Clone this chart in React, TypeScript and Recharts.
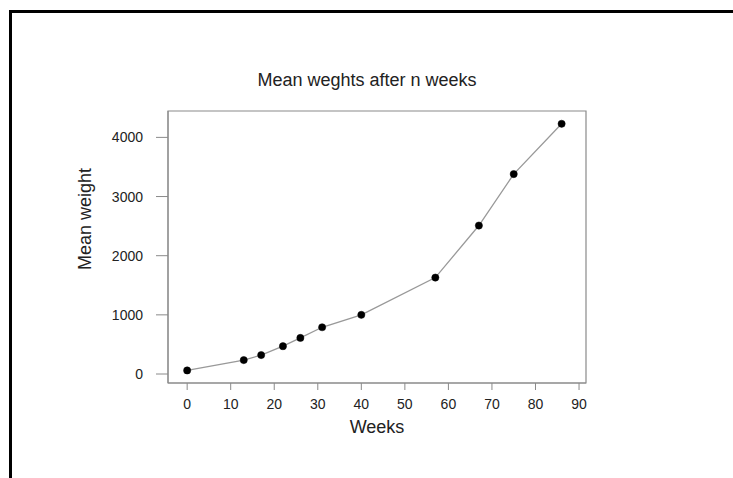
import React from 'react';
import { LineChart, Line, XAxis, YAxis, ReferenceArea } from 'recharts';

const weeks = [0, 13, 17, 22, 26, 31, 40, 57, 67, 75, 86];
const meanWeights = [60, 235, 320, 470, 610, 790, 1000, 1630, 2510, 3380, 4230];
const xTicks = [0, 10, 20, 30, 40, 50, 60, 70, 80, 90];
const yTicks = [0, 1000, 2000, 3000, 4000];

const data = weeks.map((w, i) => ({ week: w, weight: meanWeights[i] }));

const FONT = '"Liberation Sans", Arial, sans-serif';
const TEXT = '#222';
const AXIS = '#8a8a8a';

export default function App() {
  return (
    <div style={{ position: 'absolute', left: 0, top: 0, width: 733, height: 478, background: '#fff', overflow: 'hidden', fontFamily: FONT }}>
      <div style={{ position: 'absolute', left: 9, top: 10, width: 740, height: 500, borderTop: '3px solid #000', borderLeft: '3px solid #000', boxSizing: 'border-box' }} />
      <div style={{ position: 'absolute', left: 0, top: 0 }}>
        <LineChart width={733} height={478} data={data} margin={{ top: 111, right: 147, bottom: 65, left: 108 }}>
          <XAxis
            dataKey="week"
            type="number"
            domain={[-4.4, 91.6]}
            ticks={xTicks}
            interval={0}
            allowDataOverflow
            height={30}
            tickSize={7}
            tickMargin={9}
            axisLine={{ stroke: AXIS }}
            tickLine={{ stroke: AXIS }}
            tick={{ fill: TEXT, fontSize: 14, fontFamily: FONT }}
          />
          <YAxis
            dataKey="weight"
            type="number"
            domain={[-152, 4446]}
            ticks={yTicks}
            interval={0}
            allowDataOverflow
            width={60}
            tickSize={12}
            tickMargin={13}
            axisLine={{ stroke: AXIS }}
            tickLine={{ stroke: AXIS }}
            tick={{ fill: TEXT, fontSize: 14, fontFamily: FONT }}
          />
          <ReferenceArea x1={-4.4} x2={91.6} y1={-152} y2={4446} fill="none" stroke={AXIS} strokeWidth={1.2} ifOverflow="visible" />
          <Line
            dataKey="weight"
            stroke="#999"
            strokeWidth={1.3}
            isAnimationActive={false}
            dot={{ r: 3.6, fill: '#000', stroke: '#000', strokeWidth: 0.5 }}
            activeDot={false}
          />
        </LineChart>
      </div>
      <div style={{ position: 'absolute', left: 367, top: 80, transform: 'translate(-50%, -50%)', fontSize: 18, color: TEXT, whiteSpace: 'nowrap' }}>
        Mean weghts after n weeks
      </div>
      <div style={{ position: 'absolute', left: 377, top: 427, transform: 'translate(-50%, -50%)', fontSize: 18, color: TEXT, whiteSpace: 'nowrap' }}>
        Weeks
      </div>
      <div style={{ position: 'absolute', left: 85, top: 219, transform: 'translate(-50%, -50%) rotate(-90deg)', fontSize: 18, color: TEXT, whiteSpace: 'nowrap' }}>
        Mean weight
      </div>
    </div>
  );
}
